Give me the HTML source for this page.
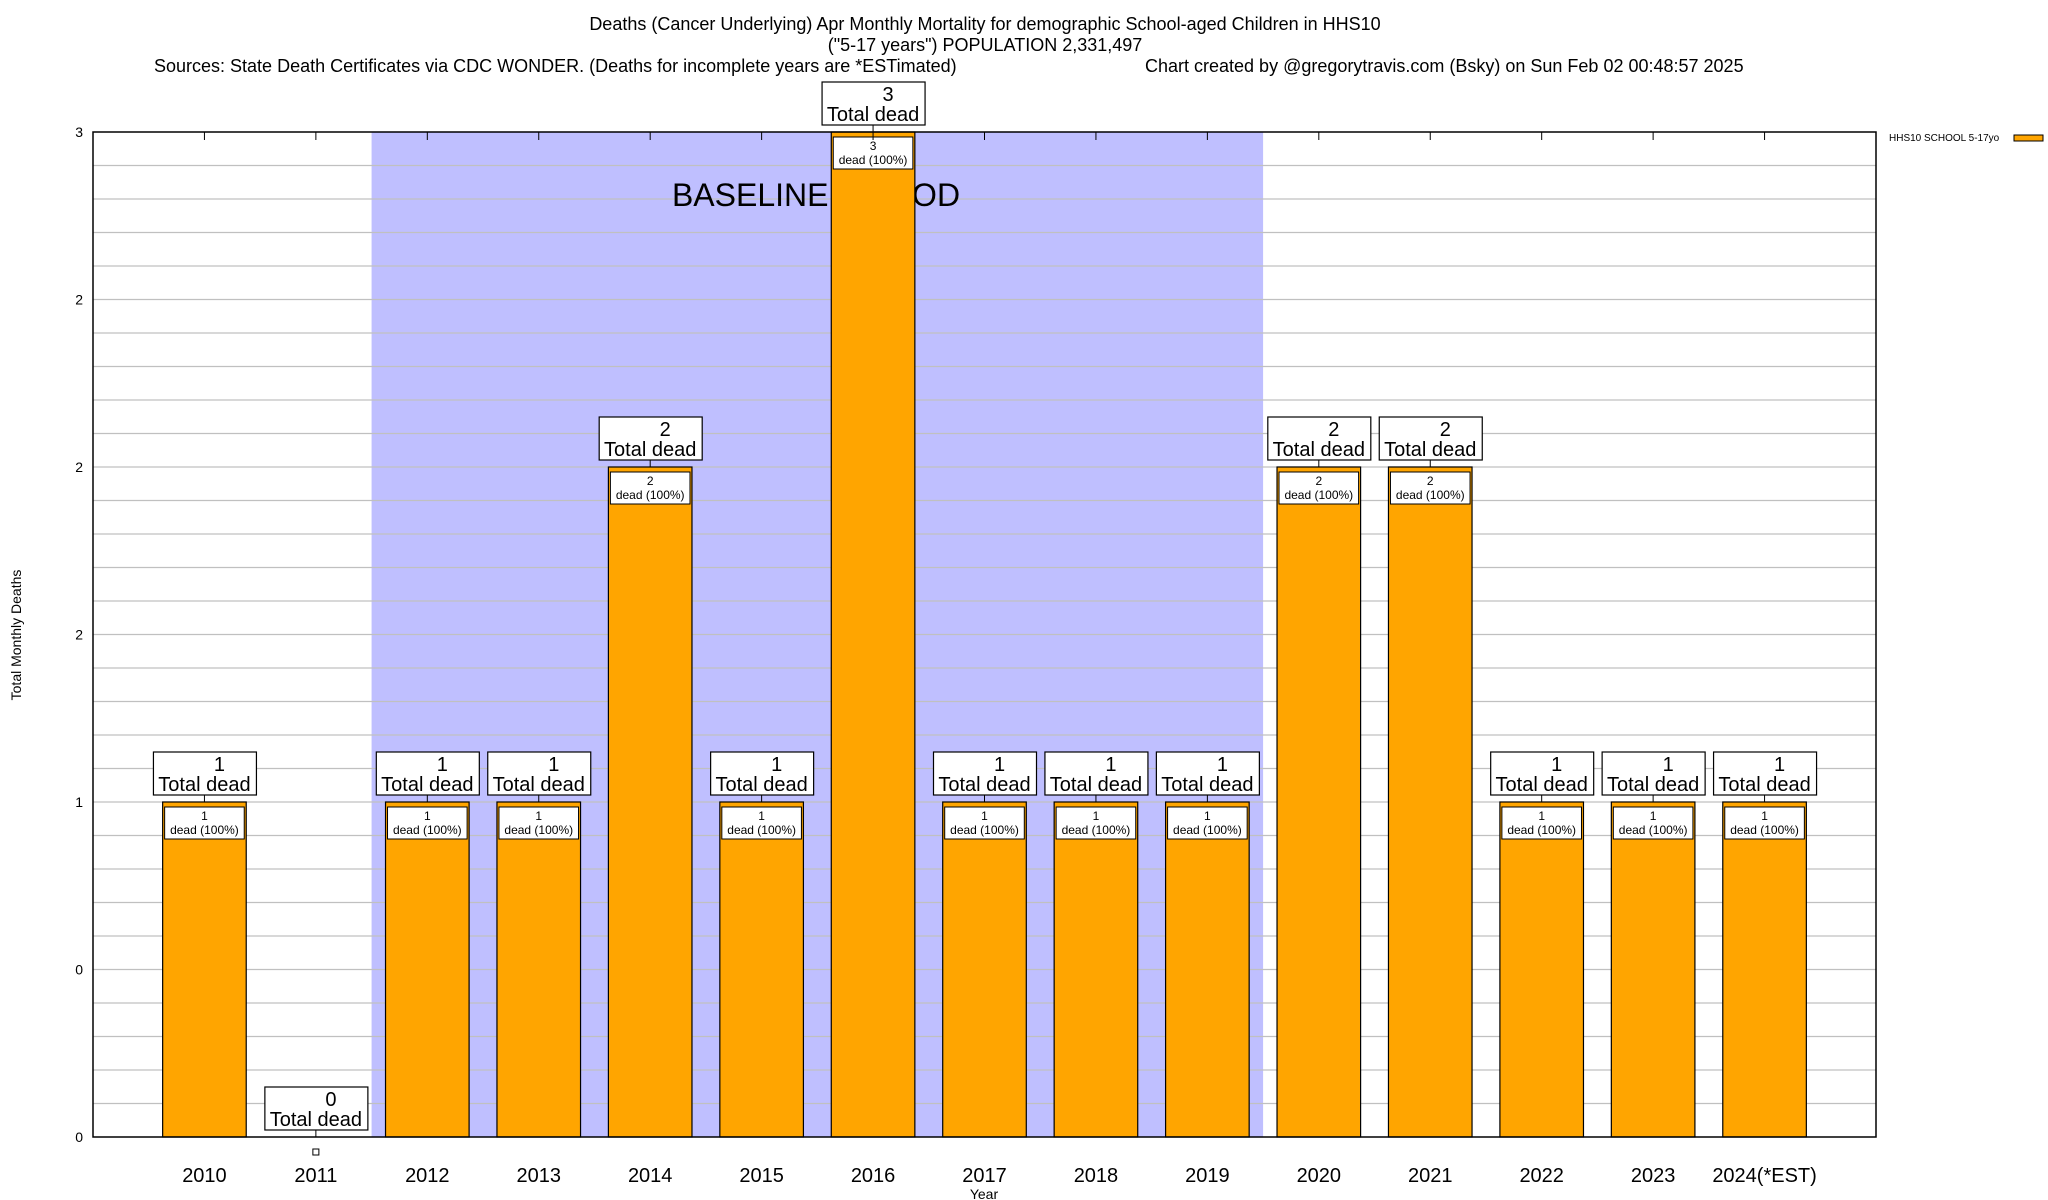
<!DOCTYPE html>
<html><head><meta charset="utf-8"><style>
html,body{margin:0;padding:0;background:#fff;}
svg{display:block;font-family:"Liberation Sans",Arial,sans-serif;}
</style></head><body>
<svg id="c" width="2048" height="1200" viewBox="0 0 2048 1200" xmlns="http://www.w3.org/2000/svg">
<text x="985" y="30" font-size="18" text-anchor="middle">Deaths (Cancer Underlying) Apr Monthly Mortality for demographic School-aged Children in HHS10</text>
<text x="985" y="51" font-size="18" text-anchor="middle">("5-17 years") POPULATION 2,331,497</text>
<text x="154" y="72" font-size="18">Sources: State Death Certificates via CDC WONDER. (Deaths for incomplete years are *ESTimated)</text>
<text x="1145" y="72" font-size="18">Chart created by @gregorytravis.com (Bsky) on Sun Feb 02 00:48:57 2025</text>
<g id="plot"></g>
<text transform="translate(21,635) rotate(-90)" font-size="14" text-anchor="middle">Total Monthly Deaths</text>
<text x="984" y="1199" font-size="14" text-anchor="middle">Year</text>
<text x="1889" y="141" font-size="10">HHS10 SCHOOL 5-17yo</text>
<rect x="2014" y="135" width="29" height="6" fill="#FFA500" stroke="#000" stroke-width="1"/>
</svg>
<script>
const categories = ["2010","2011","2012","2013","2014","2015","2016","2017","2018","2019","2020","2021","2022","2023","2024(*EST)"];
const deaths = [1,0,1,1,2,1,3,1,1,1,2,2,1,1,1];
const yTickValues = [0,0.5,1,1.5,2,2.5,3];
const yTickLabels = ["0","0","1","2","2","2","3"];
const baselineStart = 1.5, baselineEnd = 9.5;

const NS = "http://www.w3.org/2000/svg";
const L = 93, R = 1876, T = 132, B = 1137;
const xMin = -1, xMax = 15, yMax = 3;
const xs = v => L + (v - xMin) / (xMax - xMin) * (R - L);
const ys = v => B - v / yMax * (B - T);
const slot = (R - L) / (xMax - xMin);
const g = document.getElementById('plot');
function mk(tag, attrs, parent) {
  const e = document.createElementNS(NS, tag);
  for (const k in attrs) e.setAttribute(k, attrs[k]);
  (parent || g).appendChild(e);
  return e;
}
// baseline region
let bl = mk('rect', {x: xs(baselineStart), y: T, width: xs(baselineEnd) - xs(baselineStart), height: B - T, fill: '#BFBFFF'});


// gridlines every 0.1
for (let i = 1; i < 30; i++) {
  const y = ys(i / 10);
  const gl = mk('line', {x1: L, x2: R, y1: y, y2: y, stroke: '#c0c0c0', 'stroke-width': 1.3});
  
  
}
let bt = mk('text', {x: 816, y: 206, 'font-size': 32, 'text-anchor': 'middle'});
bt.textContent = 'BASELINE PERIOD';


// y ticks
yTickValues.forEach((v, i) => {
  const t = mk('text', {x: L - 10, y: ys(v) + 5, 'font-size': 14, 'text-anchor': 'end'});
  t.textContent = yTickLabels[i];
  
  
});
// bars
categories.forEach((c, i) => {
  const cx = xs(i), w = slot * 0.75, v = deaths[i];
  const top = ys(v);
  if (v > 0) {
    const r = mk('rect', {x: cx - w / 2, y: top, width: w, height: B - top, fill: '#FFA500', stroke: '#000', 'stroke-width': 1.2});
    
    
    const ib = mk('rect', {x: cx - w / 2 + 2, y: top + 5, width: w - 4, height: 32, fill: '#fff', stroke: '#000', 'stroke-width': 1});
    
    
    const t1 = mk('text', {x: cx, y: top + 18, 'font-size': 12, 'text-anchor': 'middle'});
    t1.textContent = v;
    
    
    const t2 = mk('text', {x: cx, y: top + 32, 'font-size': 12, 'text-anchor': 'middle'});
    t2.textContent = 'dead (100%)';
    
    
  } else {
    const m = mk('rect', {x: cx - 3, y: B + 12, width: 6, height: 6, fill: '#fff', stroke: '#000', 'stroke-width': 1});
    
    
  }
  const bx = cx - 51, by = top - 50;
  const ln = mk('line', {x1: cx, x2: cx, y1: by + 43, y2: top, stroke: '#000', 'stroke-width': 1});
  
  
  const box = mk('rect', {x: bx, y: by, width: 103, height: 43, fill: '#fff', stroke: '#000', 'stroke-width': 1.2});
  
  
  const n = mk('text', {x: cx + 15, y: by + 19, 'font-size': 20, 'text-anchor': 'middle'});
  n.textContent = v;
  
  
  const td = mk('text', {x: cx, y: by + 39, 'font-size': 20, 'text-anchor': 'middle'});
  td.textContent = 'Total dead';
  
  
  const xl = mk('text', {x: cx, y: B + 45, 'font-size': 20, 'text-anchor': 'middle'});
  xl.textContent = c;
  
  
  const tk = mk('line', {x1: cx, x2: cx, y1: T, y2: T + 8, stroke: '#000', 'stroke-width': 1});
  
  
});
const fr = mk('rect', {x: L, y: T, width: R - L, height: B - T, fill: 'none', stroke: '#000', 'stroke-width': 1.5});


</script>
</body></html>
